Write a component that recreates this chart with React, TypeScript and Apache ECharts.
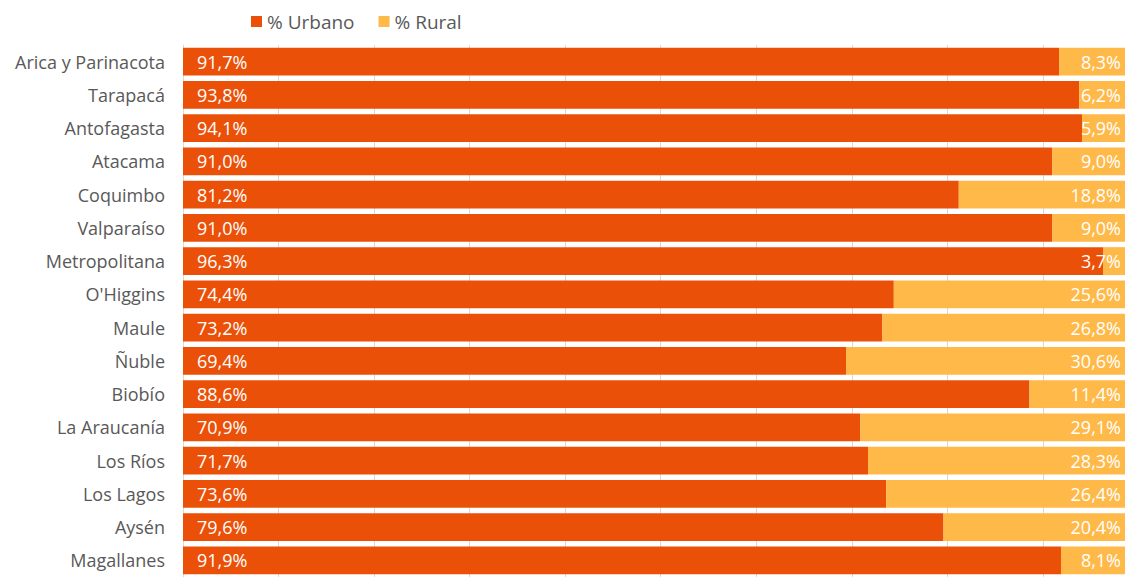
import React, { useEffect, useRef } from "react";
import * as echarts from "echarts";

const categories = [
  "Arica y Parinacota", "Tarapacá", "Antofagasta", "Atacama", "Coquimbo", "Valparaíso",
  "Metropolitana", "O'Higgins", "Maule", "Ñuble", "Biobío", "La Araucanía", "Los Ríos",
  "Los Lagos", "Aysén", "Magallanes",
];
const urbano = [91.7, 93.8, 94.1, 91.0, 81.2, 91.0, 96.3, 74.4, 73.2, 69.4, 88.6, 70.9, 71.7, 73.6, 79.6, 91.9];
const rural = [8.3, 6.2, 5.9, 9.0, 18.8, 9.0, 3.7, 25.6, 26.8, 30.6, 11.4, 29.1, 28.3, 26.4, 20.4, 8.1];
const seriesNames = ["% Urbano", "% Rural"];

const FONT = "'Open Sans', sans-serif";
const fmt = (v: number) => v.toFixed(1).replace(".", ",") + "%";

export default function App() {
  const ref = useRef<HTMLDivElement>(null);
  useEffect(() => {
    const chart = echarts.init(ref.current!, null, { renderer: "svg" });
    chart.setOption({
      animation: false,
      backgroundColor: "#ffffff",
      legend: {
        top: 7,
        left: 246,
        itemWidth: 11,
        itemHeight: 11,
        itemGap: 24,
        icon: "rect",
        textStyle: { color: "#595959", fontSize: 19, fontFamily: FONT },
        data: seriesNames,
      },
      grid: { left: 183, right: 0, top: 45, bottom: 0, containLabel: false },
      xAxis: {
        type: "value",
        min: 0,
        max: 98.6,
        interval: 10,
        axisLabel: { show: false },
        axisLine: { show: false },
        axisTick: { show: false },
        splitLine: { show: true, lineStyle: { color: "#D9D9D9", width: 1 } },
      },
      yAxis: {
        type: "category",
        data: categories,
        inverse: true,
        axisTick: { show: false },
        axisLine: { show: true, lineStyle: { color: "#D9D9D9" } },
        axisLabel: { color: "#595959", fontSize: 18, fontFamily: FONT, margin: 18 },
      },
      series: [
        {
          name: seriesNames[0],
          type: "bar",
          stack: "t",
          data: urbano,
          barCategoryGap: "16%",
          itemStyle: { color: "#EB5008" },
          label: {
            show: true,
            position: "insideLeft",
            distance: 14,
            color: "#ffffff",
            fontSize: 18,
            fontFamily: FONT,
            formatter: (p: any) => fmt(p.value),
          },
        },
        {
          name: seriesNames[1],
          type: "bar",
          stack: "t",
          data: rural,
          barCategoryGap: "16%",
          clip: true,
          itemStyle: { color: "#FFB948" },
          label: {
            show: true,
            position: "insideRight",
            distance: 4,
            color: "#ffffff",
            fontSize: 18,
            fontFamily: FONT,
            formatter: (p: any) => fmt(p.value),
          },
        },
      ],
    });
    return () => chart.dispose();
  }, []);
  return (
    <div
      ref={ref}
      style={{ position: "fixed", left: 0, top: 0, width: 1125, height: 577 }}
    />
  );
}
